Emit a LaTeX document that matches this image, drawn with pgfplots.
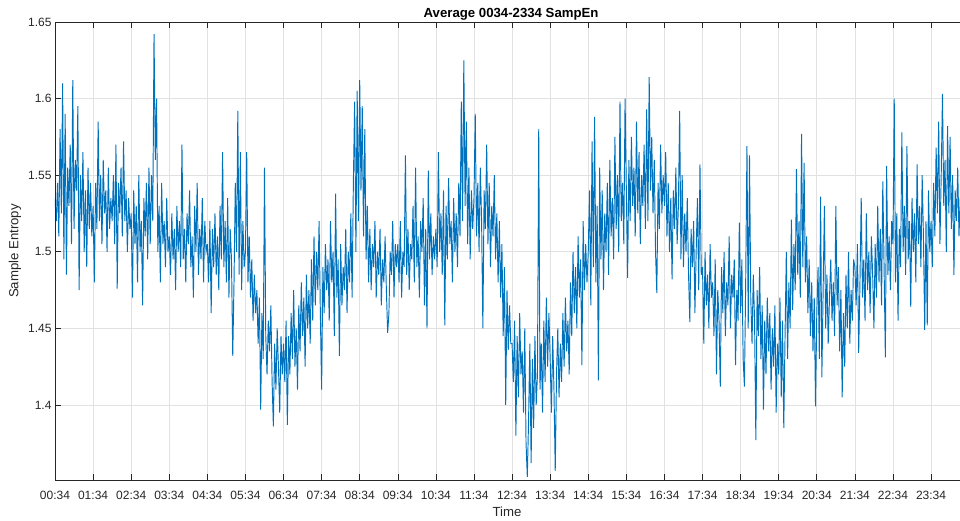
\documentclass[border=0pt]{standalone}
\usepackage{fontspec}
\setmainfont{Liberation Sans}
\usepackage{pgfplots}
\usepackage{pgfplotstable}
\pgfplotsset{compat=1.18}
\definecolor{mblue}{RGB}{0,114,189}
\definecolor{axgray}{RGB}{38,38,38}
\definecolor{gridgray}{RGB}{225,225,225}
\pgfplotstableread[row sep=\\]{
y\\
1.535\\ 1.520\\ 1.545\\ 1.510\\ 1.580\\ 1.525\\ 1.610\\ 1.495\\ 1.590\\ 1.485\\ 1.555\\ 1.530\\ 1.570\\ 1.505\\ 1.612\\ 1.515\\ 1.560\\ 1.540\\ 1.595\\ 1.475\\ 1.550\\ 1.520\\ 1.565\\ 1.500\\ 1.540\\ 1.490\\ 1.555\\ 1.515\\ 1.545\\ 1.510\\
1.530\\ 1.480\\ 1.545\\ 1.515\\ 1.585\\ 1.520\\ 1.550\\ 1.505\\ 1.560\\ 1.525\\ 1.540\\ 1.500\\ 1.555\\ 1.515\\ 1.535\\ 1.520\\ 1.550\\ 1.505\\ 1.570\\ 1.476\\ 1.545\\ 1.525\\ 1.555\\ 1.510\\ 1.572\\ 1.520\\ 1.540\\ 1.500\\ 1.535\\ 1.515\\
1.525\\ 1.470\\ 1.540\\ 1.505\\ 1.530\\ 1.480\\ 1.550\\ 1.500\\ 1.520\\ 1.465\\ 1.535\\ 1.510\\ 1.545\\ 1.495\\ 1.555\\ 1.505\\ 1.550\\ 1.520\\ 1.642\\ 1.560\\ 1.600\\ 1.500\\ 1.530\\ 1.480\\ 1.545\\ 1.505\\ 1.520\\ 1.490\\ 1.535\\ 1.500\\
1.510\\ 1.485\\ 1.525\\ 1.495\\ 1.515\\ 1.475\\ 1.530\\ 1.500\\ 1.520\\ 1.490\\ 1.570\\ 1.495\\ 1.515\\ 1.480\\ 1.525\\ 1.505\\ 1.540\\ 1.490\\ 1.510\\ 1.470\\ 1.530\\ 1.500\\ 1.545\\ 1.485\\ 1.515\\ 1.495\\ 1.535\\ 1.480\\ 1.520\\ 1.500\\
1.505\\ 1.480\\ 1.520\\ 1.460\\ 1.515\\ 1.490\\ 1.525\\ 1.485\\ 1.510\\ 1.475\\ 1.530\\ 1.495\\ 1.565\\ 1.490\\ 1.520\\ 1.480\\ 1.535\\ 1.470\\ 1.515\\ 1.495\\ 1.432\\ 1.480\\ 1.545\\ 1.500\\ 1.592\\ 1.485\\ 1.565\\ 1.475\\ 1.520\\ 1.490\\
1.500\\ 1.565\\ 1.480\\ 1.510\\ 1.470\\ 1.495\\ 1.455\\ 1.485\\ 1.460\\ 1.475\\ 1.440\\ 1.470\\ 1.397\\ 1.460\\ 1.430\\ 1.555\\ 1.445\\ 1.420\\ 1.455\\ 1.435\\ 1.465\\ 1.415\\ 1.386\\ 1.440\\ 1.410\\ 1.450\\ 1.425\\ 1.395\\ 1.445\\ 1.420\\
1.440\\ 1.415\\ 1.455\\ 1.387\\ 1.445\\ 1.420\\ 1.460\\ 1.430\\ 1.475\\ 1.425\\ 1.450\\ 1.410\\ 1.465\\ 1.435\\ 1.480\\ 1.445\\ 1.470\\ 1.425\\ 1.485\\ 1.450\\ 1.475\\ 1.440\\ 1.495\\ 1.455\\ 1.510\\ 1.465\\ 1.500\\ 1.475\\ 1.520\\ 1.460\\
1.410\\ 1.490\\ 1.460\\ 1.505\\ 1.475\\ 1.495\\ 1.455\\ 1.520\\ 1.480\\ 1.500\\ 1.445\\ 1.538\\ 1.470\\ 1.495\\ 1.432\\ 1.505\\ 1.465\\ 1.490\\ 1.475\\ 1.515\\ 1.460\\ 1.500\\ 1.480\\ 1.525\\ 1.470\\ 1.545\\ 1.598\\ 1.500\\ 1.605\\ 1.520\\
1.612\\ 1.540\\ 1.595\\ 1.510\\ 1.580\\ 1.495\\ 1.530\\ 1.480\\ 1.515\\ 1.475\\ 1.505\\ 1.490\\ 1.520\\ 1.470\\ 1.500\\ 1.485\\ 1.515\\ 1.465\\ 1.495\\ 1.480\\ 1.510\\ 1.475\\ 1.447\\ 1.460\\ 1.500\\ 1.485\\ 1.520\\ 1.470\\ 1.505\\ 1.490\\
1.505\\ 1.480\\ 1.520\\ 1.470\\ 1.500\\ 1.490\\ 1.563\\ 1.485\\ 1.515\\ 1.475\\ 1.505\\ 1.495\\ 1.530\\ 1.480\\ 1.555\\ 1.490\\ 1.510\\ 1.470\\ 1.520\\ 1.500\\ 1.535\\ 1.465\\ 1.515\\ 1.450\\ 1.553\\ 1.495\\ 1.525\\ 1.485\\ 1.510\\ 1.495\\
1.515\\ 1.490\\ 1.565\\ 1.500\\ 1.525\\ 1.485\\ 1.540\\ 1.452\\ 1.530\\ 1.495\\ 1.548\\ 1.505\\ 1.520\\ 1.480\\ 1.535\\ 1.500\\ 1.525\\ 1.490\\ 1.545\\ 1.510\\ 1.598\\ 1.520\\ 1.625\\ 1.530\\ 1.585\\ 1.505\\ 1.555\\ 1.495\\ 1.540\\ 1.515\\
1.535\\ 1.590\\ 1.510\\ 1.545\\ 1.500\\ 1.555\\ 1.520\\ 1.450\\ 1.540\\ 1.515\\ 1.570\\ 1.505\\ 1.545\\ 1.490\\ 1.530\\ 1.510\\ 1.550\\ 1.495\\ 1.525\\ 1.480\\ 1.520\\ 1.470\\ 1.505\\ 1.445\\ 1.490\\ 1.400\\ 1.475\\ 1.436\\ 1.465\\ 1.440\\
1.440\\ 1.415\\ 1.455\\ 1.380\\ 1.445\\ 1.405\\ 1.460\\ 1.420\\ 1.435\\ 1.395\\ 1.450\\ 1.375\\ 1.353\\ 1.390\\ 1.440\\ 1.362\\ 1.430\\ 1.385\\ 1.445\\ 1.400\\ 1.420\\ 1.580\\ 1.410\\ 1.440\\ 1.395\\ 1.455\\ 1.415\\ 1.470\\ 1.425\\ 1.460\\
1.430\\ 1.395\\ 1.445\\ 1.410\\ 1.357\\ 1.420\\ 1.450\\ 1.405\\ 1.440\\ 1.415\\ 1.460\\ 1.425\\ 1.470\\ 1.435\\ 1.455\\ 1.420\\ 1.480\\ 1.445\\ 1.500\\ 1.460\\ 1.490\\ 1.450\\ 1.510\\ 1.470\\ 1.495\\ 1.426\\ 1.520\\ 1.475\\ 1.505\\ 1.480\\
1.500\\ 1.540\\ 1.465\\ 1.572\\ 1.490\\ 1.588\\ 1.480\\ 1.530\\ 1.416\\ 1.555\\ 1.495\\ 1.540\\ 1.475\\ 1.525\\ 1.500\\ 1.545\\ 1.485\\ 1.560\\ 1.510\\ 1.535\\ 1.495\\ 1.575\\ 1.515\\ 1.550\\ 1.500\\ 1.598\\ 1.520\\ 1.545\\ 1.505\\ 1.600\\
1.540\\ 1.483\\ 1.560\\ 1.520\\ 1.575\\ 1.530\\ 1.555\\ 1.510\\ 1.585\\ 1.525\\ 1.565\\ 1.505\\ 1.550\\ 1.530\\ 1.570\\ 1.515\\ 1.593\\ 1.520\\ 1.614\\ 1.540\\ 1.575\\ 1.525\\ 1.560\\ 1.500\\ 1.473\\ 1.545\\ 1.515\\ 1.570\\ 1.525\\ 1.550\\
1.530\\ 1.565\\ 1.510\\ 1.545\\ 1.500\\ 1.535\\ 1.482\\ 1.540\\ 1.515\\ 1.555\\ 1.505\\ 1.530\\ 1.592\\ 1.495\\ 1.550\\ 1.490\\ 1.525\\ 1.500\\ 1.535\\ 1.485\\ 1.454\\ 1.515\\ 1.490\\ 1.520\\ 1.460\\ 1.500\\ 1.535\\ 1.475\\ 1.557\\ 1.485\\
1.490\\ 1.440\\ 1.500\\ 1.465\\ 1.485\\ 1.450\\ 1.505\\ 1.470\\ 1.480\\ 1.445\\ 1.495\\ 1.420\\ 1.475\\ 1.455\\ 1.412\\ 1.490\\ 1.460\\ 1.500\\ 1.445\\ 1.480\\ 1.465\\ 1.510\\ 1.450\\ 1.485\\ 1.470\\ 1.495\\ 1.426\\ 1.475\\ 1.455\\ 1.519\\
1.460\\ 1.495\\ 1.430\\ 1.412\\ 1.480\\ 1.569\\ 1.450\\ 1.563\\ 1.470\\ 1.440\\ 1.485\\ 1.455\\ 1.377\\ 1.475\\ 1.445\\ 1.490\\ 1.430\\ 1.465\\ 1.397\\ 1.455\\ 1.420\\ 1.470\\ 1.435\\ 1.460\\ 1.410\\ 1.450\\ 1.425\\ 1.465\\ 1.395\\ 1.440\\
1.420\\ 1.470\\ 1.405\\ 1.455\\ 1.385\\ 1.445\\ 1.500\\ 1.430\\ 1.480\\ 1.450\\ 1.521\\ 1.462\\ 1.505\\ 1.475\\ 1.554\\ 1.485\\ 1.520\\ 1.470\\ 1.577\\ 1.490\\ 1.558\\ 1.480\\ 1.510\\ 1.460\\ 1.495\\ 1.445\\ 1.480\\ 1.435\\ 1.470\\ 1.399\\
1.460\\ 1.490\\ 1.430\\ 1.536\\ 1.418\\ 1.475\\ 1.530\\ 1.450\\ 1.485\\ 1.440\\ 1.470\\ 1.495\\ 1.455\\ 1.480\\ 1.445\\ 1.530\\ 1.465\\ 1.490\\ 1.435\\ 1.475\\ 1.405\\ 1.460\\ 1.425\\ 1.485\\ 1.450\\ 1.500\\ 1.440\\ 1.475\\ 1.455\\ 1.495\\
1.490\\ 1.465\\ 1.505\\ 1.434\\ 1.480\\ 1.535\\ 1.470\\ 1.495\\ 1.455\\ 1.525\\ 1.475\\ 1.500\\ 1.460\\ 1.510\\ 1.485\\ 1.450\\ 1.505\\ 1.470\\ 1.530\\ 1.480\\ 1.515\\ 1.465\\ 1.546\\ 1.490\\ 1.431\\ 1.556\\ 1.485\\ 1.510\\ 1.475\\ 1.520\\
1.505\\ 1.600\\ 1.480\\ 1.525\\ 1.455\\ 1.515\\ 1.490\\ 1.578\\ 1.500\\ 1.530\\ 1.485\\ 1.569\\ 1.495\\ 1.520\\ 1.464\\ 1.535\\ 1.500\\ 1.525\\ 1.480\\ 1.557\\ 1.505\\ 1.530\\ 1.490\\ 1.550\\ 1.510\\ 1.449\\ 1.520\\ 1.452\\ 1.540\\ 1.500\\
1.520\\ 1.490\\ 1.545\\ 1.510\\ 1.568\\ 1.525\\ 1.585\\ 1.505\\ 1.550\\ 1.603\\ 1.530\\ 1.560\\ 1.500\\ 1.582\\ 1.525\\ 1.575\\ 1.515\\ 1.550\\ 1.485\\ 1.540\\ 1.520\\ 1.555\\ 1.510\\ 1.535\\
}\sampen
\begin{document}
\begin{tikzpicture}[x=1pt,y=1pt]
\path[use as bounding box] (0,0) rectangle (960,520);
\begin{axis}[
  at={(55pt,40pt)}, anchor=south west,
  scale only axis, width=905pt, height=458pt,
  xmin=0, xmax=23.76, ymin=1.351, ymax=1.65,
  xtick={0,1,...,23},
  xticklabels={00:34,01:34,02:34,03:34,04:34,05:34,06:34,07:34,08:34,09:34,10:34,11:34,12:34,13:34,14:34,15:34,16:34,17:34,18:34,19:34,20:34,21:34,22:34,23:34},
  ytick={1.4,1.45,1.5,1.55,1.6,1.65},
  yticklabels={1.4,1.45,1.5,1.55,1.6,1.65},
  grid=major, major grid style={draw=gridgray, line width=0.6pt},
  axis line style={draw=none},
  xtick pos=both, ytick pos=left, tick align=inside,
  major tick length=6pt,
  tick style={draw=axgray, line width=0.6pt},
  ticklabel style={font=\fontsize{12}{14}\selectfont, text=axgray},
  xticklabel style={anchor=base, yshift=-19.5pt},
  title={Average 0034-2334 SampEn},
  title style={font=\bfseries\fontsize{13.2}{15}\selectfont, text=black, at={(axis description cs:0.504,1)}, anchor=base, yshift=-1.7pt},
  xlabel={Time},
  xlabel style={font=\fontsize{13.2}{15}\selectfont, text=axgray, at={(axis description cs:0.4994,0)}, anchor=base, yshift=-36pt},
  ylabel={Sample Entropy},
  ylabel style={font=\fontsize{13.2}{15}\selectfont, text=axgray, at={(axis description cs:-0.0442,0.5)}, anchor=center},
]
\addplot[mblue, line width=0.95pt] table[x expr=\coordindex/30, y=y] {\sampen};
\end{axis}
\draw[axgray, line width=0.7pt] (960,498) -- (55,498) -- (55,40) -- (960,40);
\end{tikzpicture}
\end{document}
